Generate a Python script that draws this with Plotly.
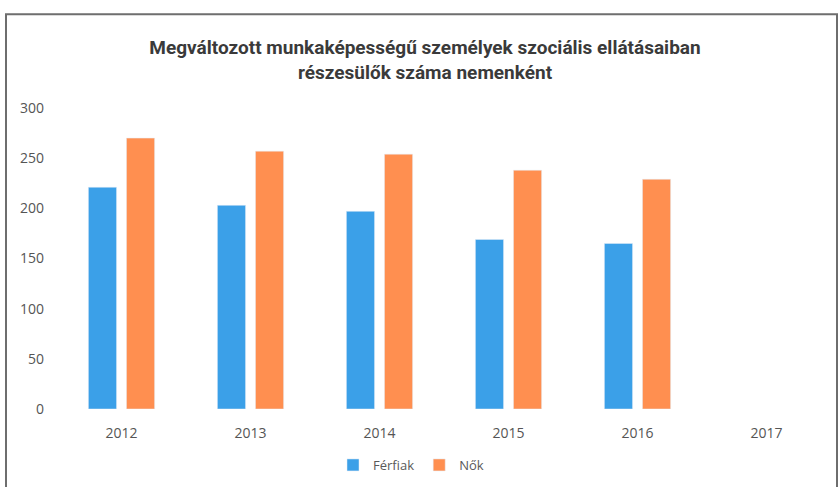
import plotly.graph_objects as go

years = ["2012", "2013", "2014", "2015", "2016", "2017"]
ferfiak = [221, 203, 197, 169, 165, None]
nok = [270, 257, 254, 238, 229, None]
y_ticks = [0, 50, 100, 150, 200, 250, 300]

W, H = 839, 487
L, R, T, B = 57, 8, 108, 77
pw, ph = W - L - R, H - T - B

def px(x):
    return (x - L) / pw

def py(y):
    return (H - B - y) / ph

fig = go.Figure()
fig.add_trace(go.Bar(x=years, y=ferfiak, name="Férfiak", marker_color="#3BA0E8"))
fig.add_trace(go.Bar(x=years, y=nok, name="Nők", marker_color="#FF8F50"))

fig.update_layout(
    width=W, height=H,
    margin=dict(l=L, r=R, t=T, b=B),
    paper_bgcolor="white", plot_bgcolor="white",
    barmode="group", bargap=0.41, bargroupgap=0.26,
    font=dict(family="Open Sans", size=13, color="#595959"),
    title=dict(
        text="Megváltozott munkaképességű személyek szociális ellátásaiban<br>részesülők száma nemenként",
        xref="container", yref="container",
        x=425 / W, xanchor="center", y=1 - 54 / H, yanchor="middle",
        font=dict(family="Roboto", size=19, color="#3A3A3A", weight="bold"),
    ),
    xaxis=dict(showgrid=False, showline=False, zeroline=False, ticks="",
               ticklabelstandoff=14, tickfont=dict(size=14, color="#555555")),
    yaxis=dict(range=[0, 300], tickvals=y_ticks, showgrid=False, showline=False,
               zeroline=False, ticks="", ticklabelstandoff=12,
               tickfont=dict(size=14, color="#555555")),
    legend=dict(orientation="h", x=px(411), xanchor="center", y=py(465),
                yanchor="middle", font=dict(size=13, color="#595959"),
                itemwidth=30, tracegroupgap=0),
    shapes=[dict(type="rect", xref="paper", yref="paper",
                 x0=px(6), x1=px(837), y0=py(495), y1=py(14),
                 line=dict(color="#6E6E6E", width=2), fillcolor="rgba(0,0,0,0)", layer="below")],
)

fig.write_html("out.html", config={"displayModeBar": False},
               post_script="document.body.style.margin='0';document.body.style.overflow='hidden';")
